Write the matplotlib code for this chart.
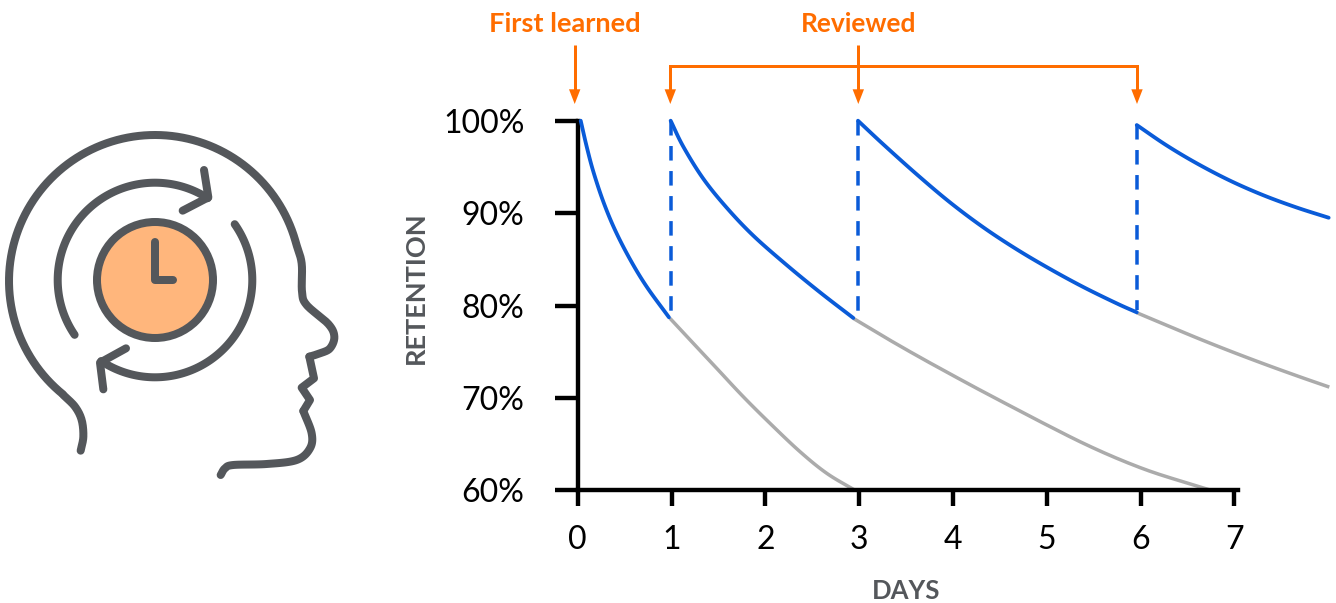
import numpy as np
import matplotlib
matplotlib.use("Agg")
import matplotlib.pyplot as plt
from matplotlib.patches import Circle, Polygon

plt.rcParams['font.family'] = ['Lato', 'DejaVu Sans']

# ---- data ----
day_ticks = [0, 1, 2, 3, 4, 5, 6, 7]
retention_ticks = [60, 70, 80, 90, 100]
retention_labels = ['60%', '70%', '80%', '90%', '100%']

blue1_x = [0.032, 0.096, 0.167, 0.273, 0.398, 0.558, 0.735, 0.973]
blue1_y = [100, 97.19, 94.48, 91.24, 88.17, 85.0, 82.04, 78.72]
blue2_x = [0.991, 1.126, 1.339, 1.588, 1.872, 2.228, 2.584, 2.938]
blue2_y = [100, 97.19, 93.72, 90.59, 87.56, 84.38, 81.42, 78.65]
blue3_x = [2.988, 3.258, 3.614, 3.969, 4.324, 4.68, 5.036, 5.39, 5.746, 5.96]
blue3_y = [100, 97.44, 94.2, 91.16, 88.46, 86.08, 83.95, 82.0, 80.23, 79.26]
blue4_x = [5.96, 6.272, 6.592, 6.947, 7.303, 7.658, 8.006]
blue4_y = [99.53, 97.37, 95.43, 93.55, 91.96, 90.63, 89.5]

gray1_x = [0.984, 1.232, 1.482, 1.765, 2.05, 2.37, 2.655, 2.956]
gray1_y = [78.61, 75.91, 73.2, 70.13, 67.25, 64.18, 61.84, 60.0]
gray2_x = [2.938, 3.294, 3.649, 4.004, 4.289, 4.673, 5.028, 5.384, 5.739, 6.094, 6.45, 6.752]
gray2_y = [78.61, 76.45, 74.39, 72.41, 70.85, 68.8, 66.93, 65.12, 63.5, 62.09, 60.93, 60.0]
gray3_x = [5.96, 6.272, 6.627, 6.983, 7.338, 7.693, 8.013]
gray3_y = [79.22, 77.89, 76.39, 74.96, 73.6, 72.3, 71.17]

review_x = [0.991, 2.988, 5.96]
review_top = [100, 100, 99.53]
review_bottom = [78.9, 78.9, 79.5]

BLUE = '#0A5BD8'
GRAY = '#ABABAB'
ORANGE = '#FF6D00'
INK = '#54575B'
PEACH = '#FFB67C'
PX = 72 / 100  # points per pixel at dpi 100
W, H = 1336, 603


def smooth(p, n=14):
    """Catmull-Rom curve through the given knots, for drawing only."""
    p = np.asarray(p, float)
    p = np.vstack([2 * p[0] - p[1], p, 2 * p[-1] - p[-2]])
    out = []
    for i in range(1, len(p) - 2):
        for t in np.linspace(0, 1, n, endpoint=False):
            out.append(0.5 * ((2 * p[i]) + (-p[i - 1] + p[i + 1]) * t
                              + (2 * p[i - 1] - 5 * p[i] + 4 * p[i + 1] - p[i + 2]) * t ** 2
                              + (-p[i - 1] + 3 * p[i] - 3 * p[i + 1] + p[i + 2]) * t ** 3))
    out.append(p[-2])
    return np.array(out)


fig = plt.figure(figsize=(W / 100, H / 100), dpi=100, facecolor='white')

# pixel-space overlay for the icon and annotation arrows
ov = fig.add_axes([0, 0, 1, 1], zorder=1)
ov.set_xlim(0, W)
ov.set_ylim(H, 0)
ov.axis('off')
ov.patch.set_alpha(0)

# ---- main chart ----
x0, y60, y100, perday = 577.7, 490.3, 120.7, 93.8
ax = fig.add_axes([x0 / W, (H - y60) / H, (W - x0) / W, (y60 - y100) / H], zorder=2)
ax.patch.set_alpha(0)
ax.set_xlim(0, (W - x0) / perday)
ax.set_ylim(60, 100)
for s in ('top', 'right'):
    ax.spines[s].set_visible(False)
ax.spines['left'].set_linewidth(4.4 * PX)
ax.spines['bottom'].set_linewidth(4.4 * PX)
ax.spines['bottom'].set_bounds(0, 7.04)
ax.spines['left'].set_bounds(60, 100)

ax.set_xticks(day_ticks)
ax.set_yticks(retention_ticks)
ax.set_yticklabels(retention_labels)
ax.tick_params(axis='x', length=16.4 * PX, width=4.4 * PX, color='black', pad=13, labelsize=23)
ax.tick_params(axis='y', length=23.4 * PX, width=4.4 * PX, color='black', pad=21.5, labelsize=23)

for xs, ys in [(gray1_x, gray1_y), (gray2_x, gray2_y), (gray3_x, gray3_y)]:
    c = smooth(np.column_stack([xs, ys]))
    ax.plot(c[:, 0], c[:, 1], color=GRAY, lw=3.5 * PX, clip_on=False, solid_capstyle='butt', zorder=2)
for xs, ys in [(blue1_x, blue1_y), (blue2_x, blue2_y), (blue3_x, blue3_y), (blue4_x, blue4_y)]:
    c = smooth(np.column_stack([xs, ys]))
    ax.plot(c[:, 0], c[:, 1], color=BLUE, lw=3.8 * PX, clip_on=False, solid_capstyle='round',
            solid_joinstyle='round', zorder=3)
for x, t, b in zip(review_x, review_top, review_bottom):
    ax.plot([x, x], [t, b], color=BLUE, lw=3.5 * PX, linestyle=(0, (4.15, 3.0)),
            dash_capstyle='butt', clip_on=False, zorder=3)

ax.set_xlabel('DAYS', color=INK, fontsize=18.5, fontweight='bold')
ax.xaxis.set_label_coords((906.5 - x0) / (W - x0), (y60 - 599) / (y60 - y100), transform=ax.transAxes)
ax.xaxis.label.set_verticalalignment('baseline')
ax.set_ylabel('RETENTION', color=INK, fontsize=19.5, fontweight='bold')
ax.yaxis.set_label_coords((424 - x0) / (W - x0), (y60 - 288) / (y60 - y100), transform=ax.transAxes)
ax.yaxis.label.set_verticalalignment('baseline')

# ---- annotations ----
ov.text(564.5, 32.3, 'First learned', color=ORANGE, fontsize=19.6, fontweight='bold', ha='center', va='baseline')
ov.text(858.5, 32.3, 'Reviewed', color=ORANGE, fontsize=19, fontweight='bold', ha='center', va='baseline')


def arrow(x, top):
    ov.plot([x, x], [top, 92], color=ORANGE, lw=3.0 * PX, solid_capstyle='butt')
    ov.add_patch(Polygon([[x - 5.7, 89.3], [x + 5.7, 89.3], [x, 104]], closed=True, fc=ORANGE, ec='none'))


arrow(574.7, 45)
arrow(670.3, 65.7)
arrow(858.3, 45)
arrow(1137, 65.7)
ov.plot([670.3, 1137], [65.7, 65.7], color=ORANGE, lw=3.0 * PX, solid_capstyle='projecting')


# ---- icon ----
def zoomed(pts):
    p = np.asarray(pts, float)
    return np.column_stack([p[:, 0] / 3, 120 + p[:, 1] / 3])


LW = 8 * PX


def stroke(xy):
    ov.plot(xy[:, 0], xy[:, 1], color=INK, lw=LW, solid_capstyle='round', solid_joinstyle='round')


cx, cy, R = 155, 280, 97.3

# neck up into the skull arc, then forehead, nose, lips, chin
neck = smooth(zoomed([(242, 992), (250, 950), (245, 900), (225, 860), (190, 825)]))
ang = np.radians(np.linspace(231, 15, 200))
skull = np.column_stack([155 + 146 * np.cos(ang), 281 - 146 * np.sin(ang)])
face = smooth(np.vstack([skull[-1:], zoomed([(905, 430), (906, 515), (920, 555), (985, 612),
                                              (1003, 650), (990, 685), (960, 700), (928, 710)])]))
stroke(np.vstack([neck, skull, face]))
stroke(zoomed([(928, 710), (942, 775), (905, 803), (930, 840), (910, 873)]))
stroke(smooth(zoomed([(910, 873), (935, 940), (930, 985), (890, 1020), (800, 1032), (700, 1035),
                      (675, 1045), (662, 1065)])))

ov.add_patch(Circle((cx, cy), 58, fc=PEACH, ec=INK, lw=LW))
stroke(zoomed([(465, 365), (465, 480), (520, 480)]))
for a0, a1 in [(214.3, 57.2), (35, -123.6)]:
    a = np.radians(np.linspace(a0, a1, 120))
    stroke(np.column_stack([cx + R * np.cos(a), cy - R * np.sin(a)]))
stroke(zoomed([(612, 150), (625, 232), (548, 272)]))
stroke(zoomed([(378, 685), (300, 728), (310, 808)]))

fig.savefig('out.png', dpi=100, facecolor='white')
